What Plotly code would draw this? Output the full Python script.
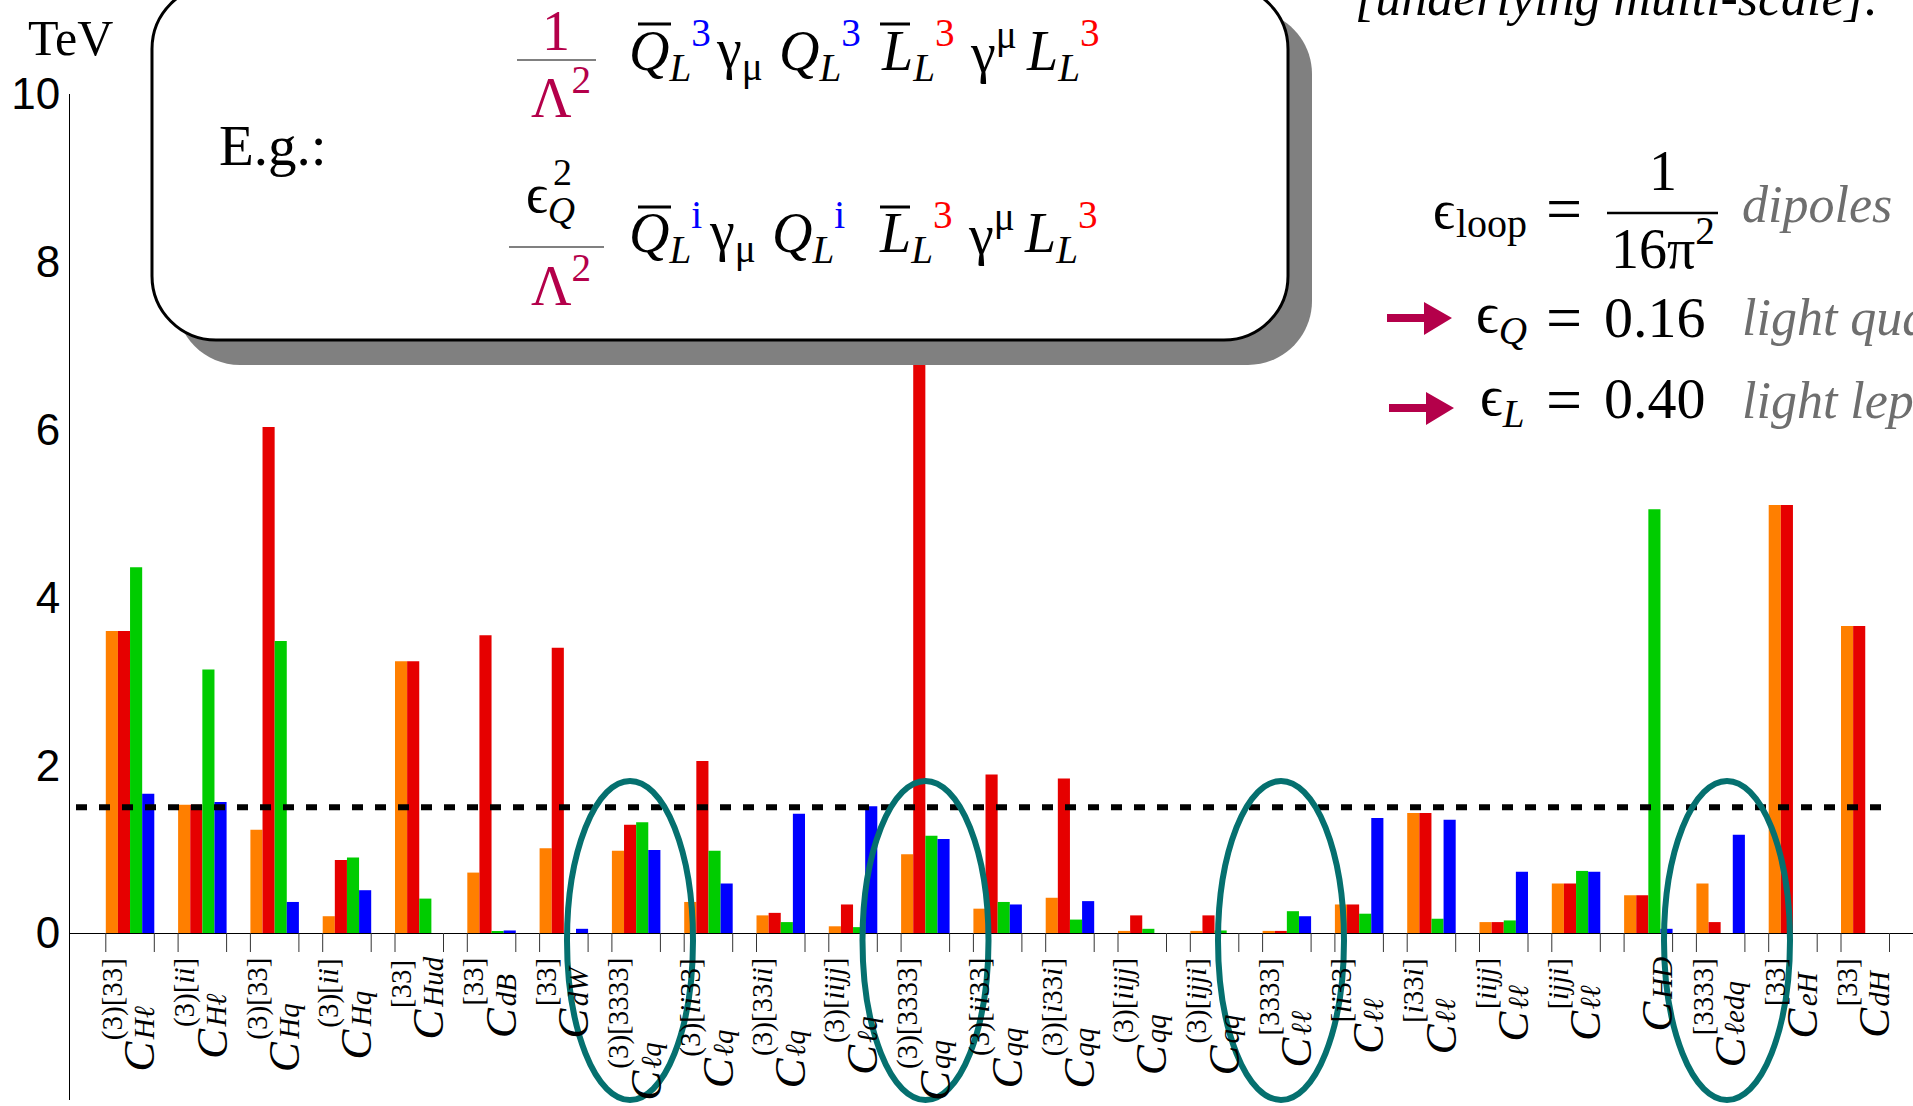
import plotly.graph_objects as go

# ---------------- data ----------------
sub_labels = ["Hℓ", "Hℓ", "Hq", "Hq", "Hud", "dB", "dW",
              "ℓq", "ℓq", "ℓq", "ℓq",
              "qq", "qq", "qq", "qq", "qq",
              "ℓℓ", "ℓℓ", "ℓℓ", "ℓℓ", "ℓℓ",
              "HD", "ℓedq", "eH", "dH"]
sup_labels = ["(3)[33]", "(3)[ii]", "(3)[33]", "(3)[ii]", "[33]", "[33]", "[33]",
              "(3)[3333]", "(3)[ii33]", "(3)[33ii]", "(3)[iijj]",
              "(3)[3333]", "(3)[ii33]", "(3)[i33i]", "(3)[iijj]", "(3)[ijji]",
              "[3333]", "[ii33]", "[i33i]", "[iijj]", "[ijji]",
              "", "[3333]", "[33]", "[33]"]

orange_vals = [3.60, 1.53, 1.23, 0.20, 3.24, 0.72, 1.01, 0.98, 0.37, 0.21, 0.08, 0.94, 0.29,
               0.42, 0.025, 0.025, 0.025, 0.34, 1.43, 0.13, 0.59, 0.45, 0.59, 5.10, 3.66]
red_vals = [3.60, 1.53, 6.03, 0.87, 3.24, 3.55, 3.40, 1.29, 2.05, 0.24, 0.34, 9.00, 1.89,
            1.84, 0.21, 0.21, 0.025, 0.34, 1.43, 0.13, 0.59, 0.45, 0.13, 5.10, 3.66]
green_vals = [4.36, 3.14, 3.48, 0.90, 0.41, 0.02, 0.0, 1.32, 0.98, 0.13, 0.07, 1.16, 0.37,
              0.16, 0.05, 0.03, 0.26, 0.23, 0.17, 0.15, 0.74, 5.05, 0.0, 0.0, 0.0]
blue_vals = [1.66, 1.56, 0.37, 0.51, 0.0, 0.03, 0.05, 0.99, 0.59, 1.42, 1.51, 1.12, 0.34,
             0.38, 0.0, 0.0, 0.20, 1.37, 1.35, 0.73, 0.73, 0.05, 1.17, 0.0, 0.0]
y_ticks = [0, 2, 4, 6, 8, 10]
threshold = 1.5

# ---------------- geometry ----------------
W, H = 1913, 1106
ML, MT, MR, MB = 70, 94, 0, 6
PW, PH = W - ML - MR, H - MT - MB
X0_PX = 130.05
DX_PX = 72.3
PX_PER_UNIT = 83.9
GROUP_PX = 48.5

def px(x):
    return (x - ML) / PW

def py(y):
    return (H - MB - y) / PH

x_lo = (ML - X0_PX) / DX_PX
x_hi = x_lo + PW / DX_PX
y_hi = 10
y_lo = y_hi - PH / PX_PER_UNIT
bargap = 1 - GROUP_PX / DX_PX

SERIF = "Liberation Serif"
SANS = "Liberation Sans"
CRIMSON = "#b4004a"
GREY_TXT = "#6e6e6e"
TEAL = "#05706f"

xs = list(range(len(sub_labels)))
fig = go.Figure()
for vals, col in zip([orange_vals, red_vals, green_vals, blue_vals],
                     ["#ff7f00", "#e60000", "#00cc00", "#0000ff"]):
    fig.add_bar(x=xs, y=vals, marker=dict(color=col, line=dict(width=0)),
                showlegend=False, hoverinfo="skip")

# tick marks at group edges
half = (1 - bargap) / 2
tx, ty = [], []
for i in xs:
    for e in (i - half, i + half):
        tx += [e, e, None]
        ty += [0, -19 / PX_PER_UNIT, None]
fig.add_scatter(x=tx, y=ty, mode="lines", line=dict(color="#333333", width=1),
                showlegend=False, hoverinfo="skip")

shapes = []
annotations = []

def rrect(x0, y0, x1, y1, r):
    k = 0.5523 * r
    P = lambda x, y: f"{px(x):.5f},{py(y):.5f}"
    return (f"M {P(x0 + r, y0)} L {P(x1 - r, y0)} "
            f"C {P(x1 - r + k, y0)} {P(x1, y0 + r - k)} {P(x1, y0 + r)} "
            f"L {P(x1, y1 - r)} "
            f"C {P(x1, y1 - r + k)} {P(x1 - r + k, y1)} {P(x1 - r, y1)} "
            f"L {P(x0 + r, y1)} "
            f"C {P(x0 + r - k, y1)} {P(x0, y1 - r + k)} {P(x0, y1 - r)} "
            f"L {P(x0, y0 + r)} "
            f"C {P(x0, y0 + r - k)} {P(x0 + r - k, y0)} {P(x0 + r, y0)} Z")

# box shadow + box
shapes.append(dict(type="path", xref="paper", yref="paper", path=rrect(176, 10, 1312, 365, 64),
                   fillcolor="#808080", line=dict(width=0), layer="above"))
shapes.append(dict(type="path", xref="paper", yref="paper", path=rrect(152, -15, 1288, 340, 64),
                   fillcolor="white", line=dict(color="black", width=3), layer="above"))

def hline(x0, x1, y, color="black", width=2):
    shapes.append(dict(type="line", xref="paper", yref="paper", x0=px(x0), x1=px(x1),
                       y0=py(y), y1=py(y), line=dict(color=color, width=width), layer="above"))

# dashed threshold line
shapes.append(dict(type="line", xref="paper", yref="y", x0=px(76), x1=px(1892),
                   y0=threshold, y1=threshold,
                   line=dict(color="black", width=6, dash="11px,12px"), layer="above"))

# ellipses
ell_cx = [630, 925.5, 1281, 1727]
for cx in ell_cx:
    shapes.append(dict(type="circle", xref="paper", yref="paper",
                       x0=px(cx - 63), x1=px(cx + 63), y0=py(781), y1=py(1100),
                       line=dict(color=TEAL, width=6), layer="above"))

# arrows
def arrow(x0, yc):
    pts = [(x0, yc - 4), (x0 + 37, yc - 4), (x0 + 37, yc - 16), (x0 + 65, yc),
           (x0 + 37, yc + 17), (x0 + 37, yc + 4), (x0, yc + 4)]
    path = "M " + " L ".join(f"{px(a):.5f},{py(b):.5f}" for a, b in pts) + " Z"
    shapes.append(dict(type="path", xref="paper", yref="paper", path=path,
                       fillcolor=CRIMSON, line=dict(width=0), layer="above"))

arrow(1387, 318)
arrow(1389, 408)

def bl(baseline, size, sub=False):
    return baseline + (0.298 if sub else 0.216) * size

def txt(x, ybottom, s, size, color="black", xanchor="left", family=SERIF, yanchor="bottom"):
    annotations.append(dict(x=px(x), y=py(ybottom), xref="paper", yref="paper", text=s,
                            showarrow=False, xanchor=xanchor, yanchor=yanchor,
                            font=dict(size=size, color=color, family=family),
                            borderpad=0, borderwidth=0))

def col(s, c):
    return f"<span style='color:{c}'>{s}</span>"

BLUE, RED = "#0000ff", "#ff0000"
FS = 56

# TeV
txt(70, bl(55, 50), "TeV", 50, xanchor="center")

# box content
txt(219, bl(165, 57), "E.g.:", 57)
txt(556, bl(50, FS), "1", FS, color=CRIMSON, xanchor="center")
hline(517, 596, 60, color="#808080", width=2)
txt(531, bl(117, FS), "Λ<sup>2</sup>", FS, color=CRIMSON)
txt(526, bl(215, 54, True), "ϵ<sub><i>Q</i></sub>", 54)
txt(553, bl(185, 38), "2", 38)
hline(509, 604, 247, color="#808080", width=2)
txt(531, bl(305, FS), "Λ<sup>2</sup>", FS, color=CRIMSON)

def ql(letter, idx, c):
    return f"<i>{letter}</i><sub><i>L</i></sub><sup>{col(idx, c)}</sup>"

line1 = [(629, ql("Q", "3", BLUE), True), (716, "γ<sub>μ</sub>", True),
         (779, ql("Q", "3", BLUE), True), (881, ql("L", "3", RED), True),
         (970, "γ<sup>μ</sup>", False), (1026, ql("L", "3", RED), True)]
line2 = [(629, ql("Q", "i", BLUE), True), (709, "γ<sub>μ</sub>", True),
         (772, ql("Q", "i", BLUE), True), (879, ql("L", "3", RED), True),
         (968, "γ<sup>μ</sup>", False), (1024, ql("L", "3", RED), True)]
for base, toks in ((72, line1), (254, line2)):
    for x, s, hs in toks:
        txt(x, bl(base, FS, hs), s, FS)
# overlines
for yb in (24, 207):
    hline(638, 671, yb, width=3)
    hline(880, 910, yb, width=3)

# right-hand side
txt(1355, bl(15, 52), "<i>[underlying multi-scale].</i>", 52)
txt(1433, bl(228, 54), "ϵ", 54)
txt(1456, bl(237, 40), "loop", 40)
txt(1546, bl(230, 64), "=", 64)
txt(1663, bl(190, FS), "1", FS, xanchor="center")
hline(1607, 1718, 213, width=2.5)
txt(1611, bl(268, FS), "16π<sup>2</sup>", FS)
txt(1742, bl(222, 52), "<i>dipoles</i>", 52, color=GREY_TXT)

txt(1476, bl(335, FS, True), "ϵ<sub><i>Q</i></sub>", FS)
txt(1546, bl(339, 64), "=", 64)
txt(1604, bl(337, 58), "0.16", 58)
txt(1742, bl(335, 52), "<i>light quarks</i>", 52, color=GREY_TXT)

txt(1480, bl(418, FS, True), "ϵ<sub><i>L</i></sub>", FS)
txt(1546, bl(421, 64), "=", 64)
txt(1604, bl(418, 58), "0.40", 58)
txt(1742, bl(418, 52), "<i>light leptons</i>", 52, color=GREY_TXT)

# rotated category labels
CW = {"(": 0.333, ")": 0.333, "[": 0.333, "]": 0.333, "3": 0.5, "i": 0.278, "j": 0.278,
      "H": 0.722, "ℓ": 0.42, "q": 0.5, "u": 0.5, "d": 0.5, "B": 0.611, "W": 0.833,
      "e": 0.444, "D": 0.722}
S_IDX, S_C = 29, 45

def est(s, size):
    return sum(CW.get(ch, 0.5) for ch in s) * size

def idx_html(s):
    return "".join(f"<i>{ch}</i>" if ch in "ij" else ch for ch in s)

TOP = 958
for i, (sb, sp) in enumerate(zip(sub_labels, sup_labels)):
    blk = max(est(sb, S_IDX), est(sp, S_IDX))
    bottom = TOP + blk
    common = dict(x=i, xref="x", yref="paper", showarrow=False, textangle=-90,
                  xanchor="center", borderpad=0, borderwidth=0)
    if sp:
        annotations.append(dict(common, y=py(bottom), yanchor="bottom", xshift=-18,
                                text=idx_html(sp),
                                font=dict(size=S_IDX, family=SERIF, color="black")))
    annotations.append(dict(common, y=py(bottom), yanchor="bottom", xshift=14,
                            text=f"<i>{sb}</i>",
                            font=dict(size=S_IDX, family=SERIF, color="black")))
    annotations.append(dict(common, y=py(bottom + 1), yanchor="top", xshift=9,
                            text="<i>C</i>",
                            font=dict(size=S_C, family=SERIF, color="black")))

fig.update_layout(
    width=W, height=H,
    margin=dict(l=ML, r=MR, t=MT, b=MB, pad=0),
    paper_bgcolor="white", plot_bgcolor="white",
    font=dict(family=SERIF),
    barmode="group", bargap=bargap, bargroupgap=0,
    showlegend=False, hovermode=False,
    xaxis=dict(range=[x_lo, x_hi], showticklabels=False, showgrid=False, zeroline=False,
               showline=False, ticks="", fixedrange=True),
    yaxis=dict(range=[y_lo, y_hi], tickvals=y_ticks, ticktext=[str(v) for v in y_ticks],
               showline=True, linecolor="black", linewidth=1,
               zeroline=True, zerolinecolor="black", zerolinewidth=1,
               showgrid=False, ticks="", ticklabelstandoff=0,
               tickfont=dict(family=SANS, size=44, color="black"), fixedrange=True),
    shapes=shapes, annotations=annotations,
)

fig.write_html("out.html", config={"displayModeBar": False},
               post_script="document.body.style.margin='0px';")
